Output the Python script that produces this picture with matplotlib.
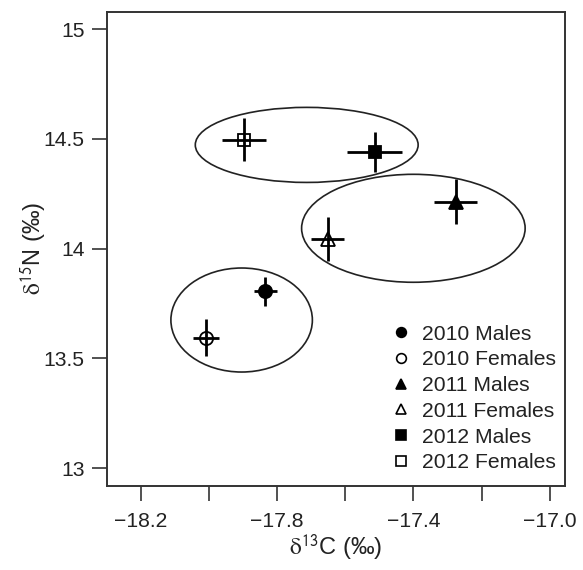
import matplotlib
matplotlib.use("Agg")
import matplotlib.pyplot as plt
from matplotlib.patches import Ellipse
from matplotlib.lines import Line2D

plt.rcParams['font.family'] = ['Liberation Sans', 'DejaVu Sans']
plt.rcParams['mathtext.fontset'] = 'stix'

# Data
groups = ["2010 Males", "2010 Females", "2011 Males", "2011 Females", "2012 Males", "2012 Females"]
d13C = [-17.834, -18.009, -17.276, -17.652, -17.514, -17.897]
d15N = [13.805, 13.594, 14.214, 14.044, 14.440, 14.497]
d13C_err = [0.033, 0.039, 0.063, 0.047, 0.080, 0.065]
d15N_err = [0.066, 0.085, 0.102, 0.102, 0.091, 0.099]
markers = ['o', 'o', '^', '^', 's', 's']
filled = [True, False, True, False, True, False]

# ellipses (year groups): center x, center y, half width, half height
ell_cx = [-17.904, -17.400, -17.713]
ell_cy = [13.675, 14.093, 14.473]
ell_hw = [0.2076, 0.328, 0.327]
ell_hh = [0.237, 0.246, 0.171]

xticks = [-18.2, -18.0, -17.8, -17.6, -17.4, -17.2, -17.0]
xticklabels = ['\u221218.2', '', '\u221217.8', '', '\u221217.4', '', '\u221217.0']
yticks = [13, 13.5, 14, 14.5, 15]
yticklabels = ['13', '13.5', '14', '14.5', '15']

W, H = 583, 570
fig = plt.figure(figsize=(W / 100, H / 100), dpi=100)
ax = fig.add_axes([106.7 / W, 1 - 485.7 / H, (565 - 106.7) / W, (485.7 - 11.7) / H])

dark = '#222222'
for cx, cy, hw, hh in zip(ell_cx, ell_cy, ell_hw, ell_hh):
    ax.add_patch(Ellipse((cx, cy), 2 * hw, 2 * hh, fill=False, edgecolor=dark, linewidth=1.2, zorder=2))

for x, y, xe, ye, m, f in zip(d13C, d15N, d13C_err, d15N_err, markers, filled):
    ax.errorbar(x, y, xerr=xe, yerr=ye, fmt='none', ecolor='black', elinewidth=2.0, capsize=0, zorder=3)
    ms = {'o': 9.5, '^': 10, 's': 8.5}[m]
    ax.plot(x, y, marker=m, linestyle='none', markersize=ms,
            markerfacecolor='black' if f else 'none', markeredgecolor='black',
            markeredgewidth=1.3, zorder=4)

ax.set_xlim(-18.30, -16.955)
ax.set_ylim(12.92, 15.08)
ax.set_xticks(xticks)
ax.set_xticklabels(xticklabels)
ax.set_yticks(yticks)
ax.set_yticklabels(yticklabels)
ax.tick_params(axis='both', direction='out', length=11, width=1.2, color='#333333',
               labelsize=15.2, labelcolor=dark)
ax.tick_params(axis='x', pad=8)
ax.tick_params(axis='y', pad=5)
for s in ax.spines.values():
    s.set_linewidth(1.4)
    s.set_color('#333333')

ax.set_xlabel(r'$\mathrm{\delta}^{\mathsf{13}}$C (‰)', fontsize=17, color=dark, labelpad=1)
ax.set_ylabel(r'$\mathrm{\delta}^{\mathsf{15}}$N (‰)', fontsize=17, color=dark, labelpad=-3)

handles = []
for g, m, f in zip(groups, markers, filled):
    ms = {'o': 7, '^': 7.5, 's': 6.5}[m]
    handles.append(Line2D([], [], marker=m, linestyle='none', markersize=ms,
                          markerfacecolor='black' if f else 'none', markeredgecolor='black',
                          markeredgewidth=1.2, label=g))
leg = ax.legend(handles=handles, loc='lower right', frameon=False, fontsize=15.2,
                handlelength=0.8, handletextpad=0.6, labelspacing=0.32,
                borderaxespad=0.3, bbox_to_anchor=(1.013, -0.003))
for t in leg.get_texts():
    t.set_color(dark)

fig.savefig('out.png', dpi=100)
